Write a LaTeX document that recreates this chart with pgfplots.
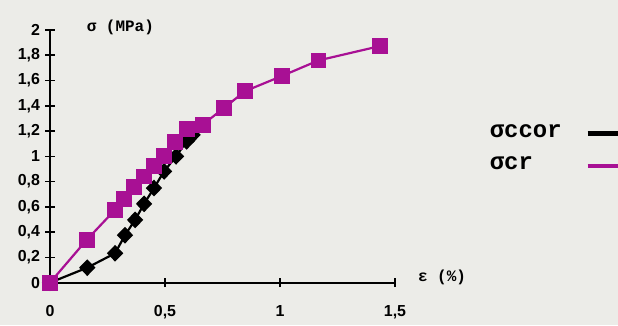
\documentclass[border=0pt]{standalone}
\usepackage{fontspec}
\setmainfont{Liberation Sans}
\newfontfamily\typew{Liberation Mono}
\usepackage{pgfplots}
\pgfplotsset{compat=1.18}
\definecolor{bgpaper}{RGB}{236,236,232}
\definecolor{crmag}{RGB}{168,16,148}
\begin{document}
\begin{tikzpicture}[x=1bp,y=1bp]
% page: 618 x 325, axis origin at (50, 42.3) from lower left
\fill[bgpaper] (-50,-42.3) rectangle (568,282.7);
\useasboundingbox (-50,-42.3) rectangle (568,282.7);
\begin{axis}[
  at={(0,0)}, anchor=origin,
  scale only axis,
  width=345bp, height=252.7bp,
  xmin=0, xmax=1.5, ymin=0, ymax=2,
  axis lines=left,
  axis line style={line width=2bp, -},
  every tick/.style={line width=1.6bp, black},
  tick align=center,
  major tick length=9bp,
  xtick={0,0.5,1,1.5},
  ytick={0,0.2,0.4,0.6,0.8,1,1.2,1.4,1.6,1.8,2},
  xticklabel={\textbf{\pgfmathprintnumber[use comma,assume math mode=true]{\tick}}},
  yticklabel={\textbf{\pgfmathprintnumber[use comma,assume math mode=true]{\tick}}},
  ticklabel style={font=\bfseries\fontsize{16}{16}\selectfont},
  xticklabel style={yshift=-15bp},
  yticklabel style={xshift=-2bp},
  clip=false,
  legend style={at={(axis cs:1.89,1.285)}, anchor=north west, draw=none, fill=none,
    font=\typew\bfseries\fontsize{24}{24}\selectfont, row sep=14bp},
  legend cell align=left,
  legend plot pos=right,
  legend image code/.code={
    \path[draw=none, fill=none, mark=none] (0bp,-2bp) -- (1bp,-2bp);
    \draw[#1, mark=none] (24bp,-2bp) -- (62bp,-2bp);},
]
% sigma_ccor
\addplot[black, line width=2.2bp, mark=diamond*, mark size=6.8bp,
  mark options={solid, xscale=1.3},
  legend image post style={line width=5bp}]
coordinates {
 (0,0) (0.162,0.119) (0.283,0.233) (0.326,0.376) (0.370,0.497)
 (0.409,0.624) (0.452,0.749) (0.496,0.881) (0.548,1.000) (0.594,1.119)
 (0.62,1.17)
};
\addlegendentry{σccor}
% sigma_cr
\addplot[crmag, line width=2.2bp, mark=square*, mark size=6.8bp,
  legend image post style={line width=3.5bp}]
coordinates {
 (0,0) (0.160,0.340) (0.283,0.577) (0.322,0.661) (0.365,0.757)
 (0.409,0.841) (0.452,0.921) (0.496,1.005) (0.543,1.111) (0.594,1.217)
 (0.664,1.251) (0.757,1.384) (0.848,1.516) (1.007,1.635) (1.167,1.759)
 (1.435,1.873)
};
\addlegendentry{σcr}
\node[font=\typew\bfseries\fontsize{16}{16}\selectfont, anchor=west]
  at (axis cs:0.145,2.02) {σ (MPa)};
\node[font=\typew\bfseries\fontsize{16}{16}\selectfont, anchor=west]
  at (axis cs:1.585,0.04) {ε (\%)};
\end{axis}
\end{tikzpicture}
\end{document}
